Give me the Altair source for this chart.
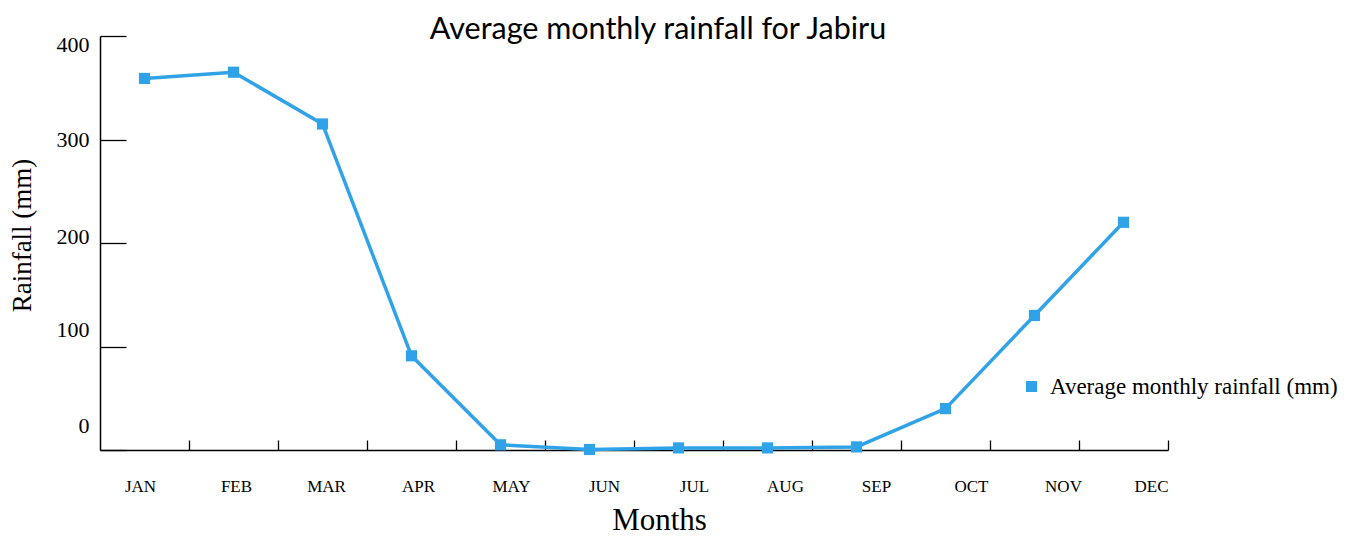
import altair as alt
import pandas as pd

# ---- data ----
months = ["JAN", "FEB", "MAR", "APR", "MAY", "JUN", "JUL", "AUG", "SEP", "OCT", "NOV", "DEC"]
rainfall = [359, 365, 315, 91, 5, 0.5, 2, 2, 3, 40, 130, 220]
series_name = "Average monthly rainfall (mm)"
y_tick_values = [0, 100, 200, 300, 400]

df = pd.DataFrame({"month": months, "rainfall": rainfall, "series": series_name})

# ---- styling ----
W, H = 1068, 414
BLUE = "#30a3e8"
SERIF = "Liberation Serif"
SANS = "Lato"

# label position nudges (style only)
x_label_nudge = {"JAN": -4, "FEB": 3, "MAR": 4, "APR": 7, "MAY": 11, "JUN": 15,
                 "JUL": 16, "AUG": 18, "SEP": 20, "OCT": 26, "NOV": 29, "DEC": 28}
y_label_nudge = {400: 8, 300: 0, 200: -7, 100: -17, 0: -25}


def cond_offset(mapping, quote):
    conds = []
    for k, v in mapping.items():
        test = f"datum.value == '{k}'" if quote else f"datum.value == {k}"
        conds.append({"test": test, "value": v})
    return {"condition": conds, "value": 0}


x_enc_main = alt.X(
    "month:N", sort=months,
    scale=alt.Scale(type="band", paddingInner=0, paddingOuter=0),
    axis=alt.Axis(
        orient="bottom", title="Months", domain=True, domainColor="black", domainWidth=1.5,
        ticks=False, tickSize=0, labelPadding=36, labelBaseline="middle", labelAngle=0,
        labelFont=SERIF, labelFontSize=17, labelColor="black",
        labelOffset=cond_offset(x_label_nudge, True),
        titleFont=SERIF, titleFontSize=31, titleFontWeight="normal", titleColor="black",
        titleX=559, titleY=79, titleBaseline="alphabetic", titleAlign="center",
    ),
)
y_enc_main = alt.Y(
    "rainfall:Q", scale=alt.Scale(domain=[0, 400], nice=False, zero=True),
    axis=alt.Axis(
        orient="left", values=y_tick_values, title="Rainfall (mm)", grid=False,
        domain=True, domainColor="black", domainWidth=1.5, ticks=False, tickSize=0,
        labelPadding=11, labelFont=SERIF, labelFontSize=22, labelColor="black",
        labelBaseline="middle", labelOffset=cond_offset(y_label_nudge, False),
        titleFont=SERIF, titleFontSize=27, titleFontWeight="normal", titleColor="black",
        titleX=-78, titleY=199, titleBaseline="middle", titleAlign="center", titleAngle=-90,
    ),
)

x_enc_ticks = alt.X(
    "month:N", sort=months,
    axis=alt.Axis(orient="top", offset=-H, labels=False, domain=False, title=None, grid=False,
                  ticks=True, tickSize=10, tickColor="black", tickWidth=1.3, bandPosition=1),
)
y_enc_ticks = alt.Y(
    "rainfall:Q",
    axis=alt.Axis(orient="right", offset=-W, values=y_tick_values, labels=False, domain=False,
                  title=None, grid=False, ticks=True, tickSize=26, tickColor="black", tickWidth=1.3),
)

base = alt.Chart(df)

line = base.mark_line(color=BLUE, strokeWidth=3.5).encode(x=x_enc_main, y=y_enc_main)

points = base.mark_square(size=125, opacity=1, filled=True).encode(
    x=x_enc_ticks,
    y=y_enc_ticks,
    color=alt.Color(
        "series:N",
        scale=alt.Scale(range=[BLUE]),
        legend=alt.Legend(
            title=None, orient="none", legendX=920, legendY=339, padding=0,
            symbolType="square", symbolSize=121, symbolStrokeWidth=0, symbolOpacity=1,
            labelFont=SERIF, labelFontSize=23, labelColor="black", labelOffset=7,
            labelLimit=400,
        ),
    ),
)

chart = (
    alt.layer(line, points)
    .resolve_axis(x="independent", y="independent")
    .properties(
        width=W, height=H, background="white",
        title=alt.Title("Average monthly rainfall for Jabiru", font=SANS, fontSize=30.5,
                        fontWeight="normal", color="black", anchor="middle", dx=24, dy=35,
                        baseline="alphabetic", offset=-1),
        autosize=alt.AutoSizeParams(type="none"),
        padding={"left": 92, "top": 28, "right": 176, "bottom": 85},
    )
    .configure_view(stroke=None, strokeWidth=0)
)

chart.save("out.html", embed_options={"renderer": "svg", "actions": False})
